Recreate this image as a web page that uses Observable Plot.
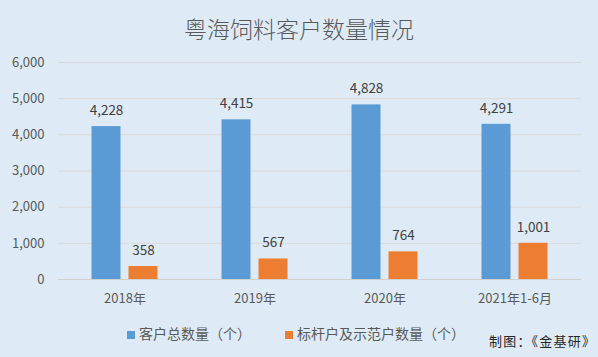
<!DOCTYPE html>
<html>
<head>
<meta charset="utf-8">
<script src="https://cdn.jsdelivr.net/npm/d3@7"></script>
<script src="https://cdn.jsdelivr.net/npm/@observablehq/plot@0.6"></script>
<style>
  html, body { margin: 0; padding: 0; background: #deebf7; }
  #wrap { width: 598px; height: 357px; position: relative; background: #deebf7; font-family: "Noto Sans CJK SC", "Noto Sans", sans-serif; overflow: hidden; }
  #title { height: 48px; line-height: 57px; text-align: center; font-size: 23px; font-weight: 300; color: #595959; }
  #legend { position: absolute; left: 0; top: 323px; width: 598px; height: 20px; font-size: 14px; color: #595959; }
  .lg { position: absolute; top: 0; line-height: 20px; white-space: nowrap; }
  .sw { display: inline-block; width: 8px; height: 8px; margin-right: 4px; vertical-align: 0px; }
  #caption { position: absolute; left: 489px; top: 331px; font-size: 13px; letter-spacing: 1.2px; color: #262626; line-height: 20px; white-space: nowrap; }
</style>
</head>
<body>
<div id="wrap">
  <div id="title"></div>
  <div id="chart"></div>
  <div id="legend"></div>
  <div id="caption"></div>
</div>
<script>
const titleText = "粤海饲料客户数量情况";
const categories = ["2018年", "2019年", "2020年", "2021年1-6月"];
const totalCustomers = [4228, 4415, 4828, 4291];
const benchmarkCustomers = [358, 567, 764, 1001];
const seriesNames = ["客户总数量（个）", "标杆户及示范户数量（个）"];
const seriesColors = ["#5b9bd5", "#ed7d31"];
const yTicks = [0, 1000, 2000, 3000, 4000, 5000, 6000];
const captionText = "制图：《金基研》";

document.getElementById("title").textContent = titleText;
document.getElementById("caption").textContent = captionText;

const rows = categories.flatMap((c, i) => [
  {category: c, series: seriesNames[0], value: totalCustomers[i]},
  {category: c, series: seriesNames[1], value: benchmarkCustomers[i]}
]);
const s0 = rows.filter(d => d.series === seriesNames[0]);
const s1 = rows.filter(d => d.series === seriesNames[1]);
const fmt = d3.format(",");

const chart = Plot.plot({
  width: 598,
  height: 262,
  marginLeft: 58,
  marginRight: 17,
  marginTop: 14,
  marginBottom: 31,
  style: {background: "transparent", color: "#595959", fontFamily: "'Noto Sans CJK SC', sans-serif", fontSize: "13px"},
  x: {domain: categories, paddingInner: 0.774, paddingOuter: 0.387, label: null},
  y: {domain: [0, 6000], label: null},
  marks: [
    Plot.ruleY(yTicks, {stroke: "#d9d9d9", strokeWidth: 1}),
    Plot.barY(s0, {x: "category", y: "value", fill: seriesColors[0], dx: -18.5}),
    Plot.barY(s1, {x: "category", y: "value", fill: seriesColors[1], dx: 18.5}),
    Plot.text(s0, {x: "category", y: "value", text: d => fmt(d.value), dx: -18.5, dy: -16, fill: "#404040", fontSize: 13.5}),
    Plot.text(s1, {x: "category", y: "value", text: d => fmt(d.value), dx: 18.5, dy: -16, fill: "#404040", fontSize: 13.5}),
    Plot.axisY({ticks: yTicks, tickFormat: fmt, tickSize: 0, tickPadding: 14, fontSize: 13}),
    Plot.axisX({tickSize: 0, tickPadding: 14, fontSize: 13}),
    Plot.ruleY([0], {stroke: "#d0d0d0"})
  ]
});
document.getElementById("chart").appendChild(chart);

const legend = document.getElementById("legend");
const lx = [127, 285];
seriesNames.forEach((n, i) => {
  const item = document.createElement("div");
  item.className = "lg";
  item.style.left = lx[i] + "px";
  const sw = document.createElement("span");
  sw.className = "sw";
  sw.style.background = seriesColors[i];
  item.appendChild(sw);
  item.appendChild(document.createTextNode(n));
  legend.appendChild(item);
});
</script>
</body>
</html>
